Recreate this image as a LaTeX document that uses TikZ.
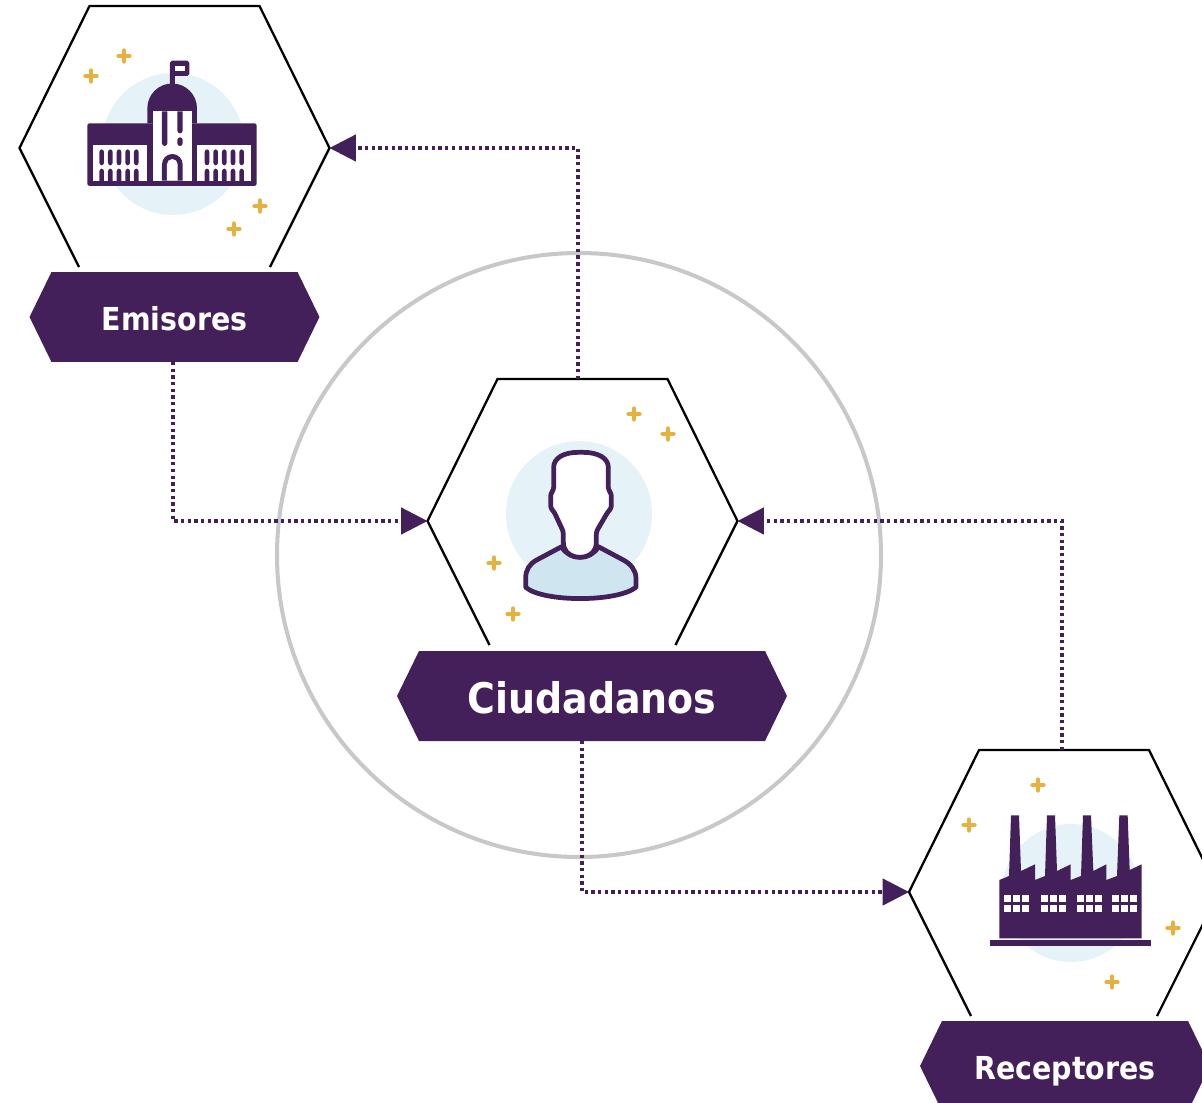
\documentclass[tikz,border=0pt]{standalone}
\usepackage{fontspec}
\setmainfont{DejaVu Sans Condensed}
\usepackage{tikz}
\usetikzlibrary{arrows.meta}
\usetikzlibrary{shapes.symbols}
\definecolor{plum}{HTML}{44205A}
\definecolor{halo}{HTML}{E5F3F9}
\definecolor{shirt}{HTML}{CFE6F0}
\definecolor{gold}{HTML}{E5B23F}
\definecolor{ringgray}{HTML}{C8C8C8}
\tikzset{
	x=0.02cm, y=-0.02cm,
	banner/.style={signal, signal to=east and west, signal pointer angle=128, fill=plum, text=white, inner sep=0pt, minimum height=1.8cm, font=\bfseries\fontsize{#1}{#1}\selectfont, text height=0.9*#1 pt, text depth=0.06*#1 pt},
	flow/.style={draw=plum, line width=1.85pt, dash pattern=on 1.9pt off 1.9pt, -{Triangle[length=15pt,width=15pt,fill=plum]}},
	sparkle/.style={draw=gold, line width=2.5pt, line cap=round},
	pics/hexframe/.style={code={
		\draw[line width=1.3pt, line join=round] (-155+#1/2,#1) -- (-155,0) -- (-85,-142) -- (85,-142) -- (155,0) -- (155-#1/2,#1);
		\coordinate (-left) at (-155,0);
		\coordinate (-right) at (155,0);
	}}
}
\begin{document}
\begin{tikzpicture}
	\clip (0,0) rectangle (1202,1102);
	\draw[ringgray, line width=2.3pt] (579,555) circle (302);
	\begin{scope}[halo]
		\fill (173,144) circle (71);
		\fill (579,514) circle (73);
		\fill (1071,893) circle (69);
	\end{scope}
	\foreach \px/\py in {124/56, 91/76, 260/206, 234/229, 634/414, 668/434, 494/563, 513/614, 1038/785, 969/825, 1173/928, 1112/982}
		\draw[sparkle] (\px-5.5,\py) -- (\px+5.5,\py) (\px,\py-5.5) -- (\px,\py+5.5);

	\pic (emi) at (174.5,148) {hexframe=119};
	\pic (ciu) at (582.5,521) {hexframe=124};
	\pic (rec) at (1064,892) {hexframe=124};

	\node[banner=18, minimum width=5.8cm] (emilabel) at (174.5,317) {Emisores};
	\node[banner=24, minimum width=7.8cm] (ciulabel) at (592,696) {Ciudadanos};
	\node[banner=18, minimum width=5.8cm] (reclabel) at (1065,1066) {Receptores};

	\coordinate (emiout) at (173,362);
	\coordinate (ciuup) at (578,379);
	\coordinate (ciuout) at (582,741);
	\coordinate (recup) at (1062,750);
	\draw[flow] (emiout) |- (ciu-left);
	\draw[flow] (ciuup) |- (emi-right);
	\draw[flow] (ciuout) |- (rec-left);
	\draw[flow] (recup) |- (ciu-right);

	\begin{scope}[shift={(70,40)}, scale=0.3333, plum]
		\fill[rounded corners=1pt] (52,250) rectangle (560,438);
		\fill (232,250) -- (232,205) arc (180:360:74.5) -- (381,250) -- cycle;
		\fill (300,140) -- (300,68) -- (306,62) -- (352,62) -- (358,68) -- (358,102) -- (352,108) -- (315,108) -- (315,140) -- cycle;
		\fill[white] (316,78) rectangle (345,94);
		\fill[white] (70,316) rectangle (232,422);
		\fill[white] (381,316) rectangle (544,422);
		\fill[white] (248,214) rectangle (366,422);
		\foreach \wx in {95,121,147,173,199,411,437,463,489,515} {
			\fill[rounded corners=1.5pt] (\wx-7,328) rectangle (\wx+7,376);
			\fill[rounded corners=1.5pt] (\wx-7,386) -- (\wx+7,386) -- (\wx+7,430) -- (\wx-7,430) -- cycle;
		}
		\fill (276,214) -- (292,214) -- (292,310) arc (0:180:8) -- cycle;
		\fill (322,214) -- (338,214) -- (338,272) arc (0:180:8) -- cycle;
		\fill[rounded corners=1.5pt] (322,292) rectangle (338,318);
		\fill (276,422) -- (276,373) arc (180:360:31) -- (338,422) -- cycle;
		\fill[white] (291,422) -- (291,373) arc (180:360:16) -- (323,422) -- cycle;
	\end{scope}

	\begin{scope}[shift={(480,430)}, scale=0.3333, draw=plum, line width=2.7pt, line join=round]
		\filldraw[fill=shirt] (245,350) -- (170,390) .. controls (148,402) and (137,420) .. (137,445) -- (137,472) .. controls (190,517) and (410,517) .. (468,472) -- (468,445) .. controls (468,420) and (452,402) .. (430,390) -- (355,350) .. controls (335,392) and (265,392) .. (245,350) -- cycle;
		\filldraw[fill=white, rounded corners=1.5pt] (250,345) -- (250,305) -- (222,245) -- (212,235) -- (212,190) -- (221,180) -- (221,120) .. controls (221,85) and (250,67) .. (302,67) .. controls (355,67) and (385,85) .. (385,120) -- (385,180) -- (394,190) -- (394,235) -- (384,245) -- (349,305) -- (349,345) .. controls (335,392) and (265,392) .. (250,345) -- cycle;
	\end{scope}

	\begin{scope}[shift={(980,800)}, scale=0.3333, plum]
		\fill (58,240) -- (87,228) -- (93,46) -- (117,46) -- (123,213) -- (165,193) -- (165,240) -- (195,228) -- (201,46) -- (225,46) -- (231,213) -- (272,193) -- (272,240) -- (303,228) -- (309,46) -- (333,46) -- (340,213) -- (379,193) -- (379,240) -- (411,228) -- (418,46) -- (443,46) -- (449,210) -- (485,193) -- (485,415) -- (58,415) -- cycle;
		\fill (30,420) rectangle (513,438);
		\foreach \gx in {72,183,291,396}
			\foreach \cx in {0,27,54}
				\foreach \cy in {285,315}
					\fill[white] (\gx+\cx,\cy) rectangle (\gx+\cx+21,\cy+21);
	\end{scope}
\end{tikzpicture}
\end{document}
